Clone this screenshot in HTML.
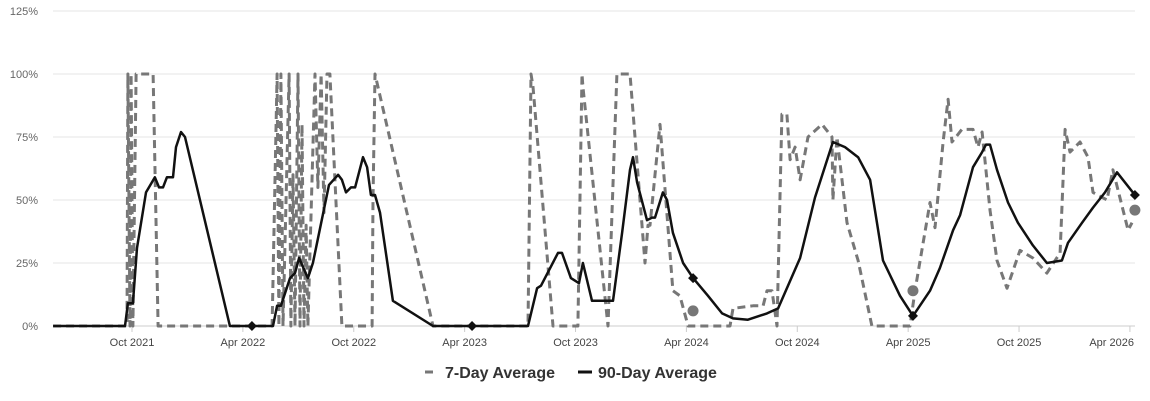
<!DOCTYPE html>
<html><head><meta charset="utf-8"><style>
body{margin:0;background:#fff;font-family:"Liberation Sans",sans-serif}
svg{display:block}
</style></head><body>
<svg id="chart" width="1150" height="401" xmlns="http://www.w3.org/2000/svg">
<g id="grid"></g>
<g id="xaxis"></g>
<g id="yaxis"></g>
<g id="series"></g>
<g>
<g>
<line x1="425" y1="372" x2="433" y2="372" stroke="#777" stroke-width="3"/>
<text x="445" y="378" font-size="16" font-weight="bold" fill="#333">7-Day Average</text></g>
<g>
<line x1="578" y1="372" x2="592" y2="372" stroke="#111" stroke-width="3"/>
<text x="598" y="378" font-size="16" font-weight="bold" fill="#333">90-Day Average</text></g>
</g>
</svg>
<script>
// months since Oct 2021
const xTickLabels=["Oct 2021","Apr 2022","Oct 2022","Apr 2023","Oct 2023","Apr 2024","Oct 2024","Apr 2025","Oct 2025","Apr 2026"];
const xTickMonths=[0,6,12,18,24,30,36,42,48,54];
const yTicks=[0,25,50,75,100,125];
const ninetyT=[-4.27,-0.38,-0.22,0.05,0.27,0.76,1.24,1.46,1.68,1.89,2.22,2.38,2.65,2.87,5.30,7.63,7.85,8.06,8.55,8.82,9.04,9.52,9.79,10.66,11.15,11.36,11.58,11.85,12.07,12.50,12.72,12.93,13.15,13.42,14.12,16.29,21.43,21.92,22.13,23.05,23.27,23.75,24.19,24.40,24.89,26.03,26.52,26.95,27.11,27.33,27.87,28.14,28.30,28.73,28.95,29.27,29.82,30.36,31.17,31.93,32.52,33.33,34.36,34.96,36.15,36.96,37.93,38.58,39.29,39.94,40.64,41.56,42.26,43.18,43.72,44.43,44.81,45.51,46.00,46.21,46.43,46.81,47.40,47.94,48.75,49.51,50.32,50.65,51.41,52.00,52.65,53.30,54.27];
const ninetyV=[0,0,9,9,31,53,59,55,55,59,59,71,77,75,0,0,8,8,19,21,27,19,25,56,60,58,53,55,55,67,63,52,52,45,10,0,0,15,16,29,29,19,17,25,10,10,37,62,67,57,42,43,43,53,50,37,25,19,12,5,3,2.5,5,7,27,51,73,71,67,58,26,12,4,14,23,38,44,63,69,72,72,62,49,41,32,25,26,33,41,47,53,61,52];
const sevenT=[-4.27,-0.27,-0.22,-0.11,-0.05,0.05,0.22,0.27,1.14,1.41,7.58,7.85,7.95,8.06,8.17,8.50,8.60,8.71,8.82,8.98,9.09,9.20,9.31,9.42,9.52,9.90,10.06,10.23,10.39,10.55,10.71,11.36,12.99,13.04,13.15,16.29,21.43,21.59,21.70,22.78,24.13,24.35,24.40,25.76,26.24,26.95,27.76,27.92,28.03,28.57,29.27,29.65,30.09,32.36,32.52,33.60,34.15,34.36,34.63,34.90,35.17,35.44,35.61,35.88,36.15,36.58,37.34,37.88,37.93,38.15,38.69,39.29,40.04,42.10,42.37,43.18,43.45,43.89,44.16,44.37,44.91,45.51,45.78,46.00,46.43,46.81,47.35,48.05,48.75,49.51,50.22,50.49,50.76,51.30,51.73,52.00,52.76,53.08,53.90,54.11];
const sevenV=[0,0,100,0,100,0,100,100,100,0,0,100,0,100,0,100,0,60,0,100,0,80,0,40,0,100,55,100,45,100,100,0,0,50,100,0,0,100,95,0,0,100,95,0,100,100,25,40,40,80,14,12,0,0,7,8,8,14,14,0,84,84,66,71,58,75,80,75,50,75,41,26,0,0,14,49,39,73,90,73,78,78,71,77,46,26,15,30,27,21,29,78,69,73,67,53,50,62,38,41];
const dotT=[30.36,42.26,54.27];
const dotV=[6,14,46];
const diamondT=[6.49,18.40,30.36,42.26,54.27];
const diamondV=[0,0,19,4,52];

const X0=53,X1=1135,Y0=326;
const xs=t=>132+t*18.48;
const ys=v=>Y0-v*2.52;
const NS="http://www.w3.org/2000/svg";
function mk(tag,attrs,parent){const e=document.createElementNS(NS,tag);for(const k in attrs)e.setAttribute(k,attrs[k]);parent.appendChild(e);return e;}
const grid=document.getElementById('grid'),xa=document.getElementById('xaxis'),ya=document.getElementById('yaxis'),ser=document.getElementById('series');
yTicks.forEach(v=>{
  const l=mk('line',{x1:X0,x2:X1,y1:ys(v),y2:ys(v),stroke:v===0?'#ccc':'#e6e6e6','stroke-width':1},grid);
  
  
  const t=mk('text',{x:38,y:ys(v)+4,'text-anchor':'end','font-size':11,fill:'#666'},ya);
  
  
  t.textContent=v+'%';
});
xTickMonths.forEach((m,i)=>{
  const tk=mk('line',{x1:xs(m),x2:xs(m),y1:Y0,y2:Y0+6,stroke:'#ccc'},xa);
  
  
  let lx=xs(m),anchor='middle';
  if(lx+22>1140){lx=1134;anchor='end';}
  const t=mk('text',{x:lx,y:346,'text-anchor':anchor,'font-size':11,fill:'#444'},xa);
  
  
  t.textContent=xTickLabels[i];
});
const pts=(T,V)=>T.map((t,i)=>xs(t).toFixed(1)+','+ys(V[i]).toFixed(1)).join(' ');
const s7=mk('polyline',{points:pts(sevenT,sevenV),fill:'none',stroke:'#777','stroke-width':3,'stroke-dasharray':'8,5','stroke-linejoin':'round'},ser);


const s90=mk('polyline',{points:pts(ninetyT,ninetyV),fill:'none',stroke:'#111','stroke-width':2.5,'stroke-linejoin':'round'},ser);


dotT.forEach((t,i)=>{
  const c=mk('circle',{cx:xs(t),cy:ys(dotV[i]),r:5.5,fill:'#777'},ser);
  
  
});
diamondT.forEach((t,i)=>{
  const x=xs(t),y=ys(diamondV[i]);
  const d=mk('polygon',{points:`${x},${y-5} ${x+5},${y} ${x},${y+5} ${x-5},${y}`,fill:'#111'},ser);
  
  
});
</script>
</body></html>
